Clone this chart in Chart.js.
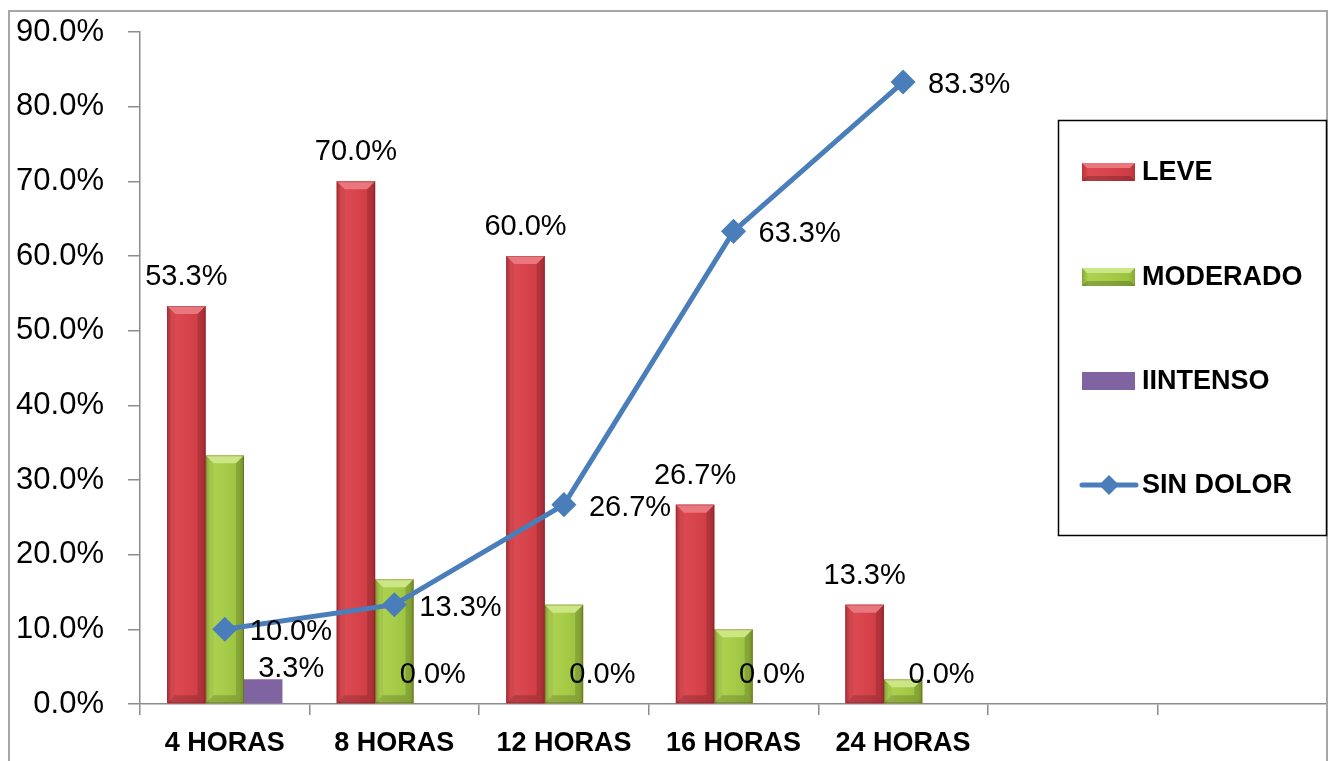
<!DOCTYPE html>
<html>
<head>
<meta charset="utf-8">
<script src="https://cdn.jsdelivr.net/npm/chart.js@4.4.1/dist/chart.umd.min.js"></script>
<style>
html, body { margin: 0; padding: 0; background: #fff; }
#wrap { width: 1332px; height: 761px; }
</style>
</head>
<body>
<div id="wrap"><canvas id="dolorChart" width="1332" height="761"></canvas></div>
<script>
// datos
const categorias = ['4 HORAS', '8 HORAS', '12 HORAS', '16 HORAS', '24 HORAS', '', ''];
const leve = [53.3, 70.0, 60.0, 26.7, 13.3];
const moderado = [33.3, 16.7, 13.3, 10.0, 3.3];
const intenso = [3.3, 0.0, 0.0, 0.0, 0.0];
const sinDolor = [10.0, 13.3, 26.7, 63.3, 83.3];
const ticksY = [0, 10, 20, 30, 40, 50, 60, 70, 80, 90];

const FUENTE = '"Liberation Sans", Arial, sans-serif';
const GRIS = '#8c8c8c';

// colores con bisel (rojo, verde)
const tonoRojo = { edge: '#b8333a', mid: '#d8444c', light: '#dc4b53', dark: '#cf3c44', top: '#e9777d' };
const tonoVerde = { edge: '#86a834', mid: '#a6cc48', light: '#add252', dark: '#9bc23f', top: '#cbe785' };

function gradiente(ctx, x0, x1, t) {
	const g = ctx.createLinearGradient(x0, 0, x1, 0);
	g.addColorStop(0, t.edge);
	g.addColorStop(0.12, t.light);
	g.addColorStop(0.5, t.mid);
	g.addColorStop(0.88, t.dark);
	g.addColorStop(1, t.edge);
	return g;
}

function pct(v) {
	return v.toFixed(1) + '%';
}

// area del grafico hasta el borde derecho
const area = {
	id: 'area',
	afterLayout(chart) {
		const a = chart.chartArea, x = chart.scales.x;
		const derecha = chart.width - 5;
		if (a.right !== derecha) {
			a.right = derecha;
			a.width = a.right - a.left;
			x.right = derecha;
			x.width = x.right - x.left;
			x.configure();
		}
	}
};

// fondo y bisel de las barras
const bisel = {
	id: 'bisel',
	beforeDraw(chart) {
		const c = chart.ctx;
		c.save();
		c.fillStyle = '#fff';
		c.fillRect(0, 0, chart.width, chart.height);
		c.restore();
	},
	afterDatasetDraw(chart, args) {
		const ds = chart.data.datasets[args.index];
		if (!ds.tono) return;
		const c = chart.ctx;
		args.meta.data.forEach(el => {
			const h = el.base - el.y;
			if (h < 1) return;
			const x0 = el.x - el.width / 2, x1 = el.x + el.width / 2;
			const b = Math.min(8, h / 2);
			c.save();
			c.fillStyle = gradiente(c, x0, x1, ds.tono);
			c.fillRect(x0, el.y, x1 - x0, h);
			c.fillStyle = ds.tono.top;
			c.beginPath();
			c.moveTo(x0, el.y); c.lineTo(x1, el.y); c.lineTo(x1 - b, el.y + b); c.lineTo(x0 + b, el.y + b);
			c.closePath(); c.fill();
			c.fillStyle = 'rgba(0,0,0,0.05)';
			c.beginPath();
			c.moveTo(x0, el.y); c.lineTo(x0 + b, el.y + b); c.lineTo(x0 + b, el.base - b); c.lineTo(x0, el.base);
			c.closePath(); c.fill();
			c.fillStyle = 'rgba(0,0,0,0.14)';
			c.beginPath();
			c.moveTo(x1, el.y); c.lineTo(x1 - b, el.y + b); c.lineTo(x1 - b, el.base - b); c.lineTo(x1, el.base);
			c.closePath(); c.fill();
			c.fillStyle = 'rgba(0,0,0,0.16)';
			c.beginPath();
			c.moveTo(x0, el.base); c.lineTo(x1, el.base); c.lineTo(x1 - b, el.base - b); c.lineTo(x0 + b, el.base - b);
			c.closePath(); c.fill();
			c.strokeStyle = 'rgba(90,20,20,0.25)';
			c.lineWidth = 1;
			c.strokeRect(x0 + 0.5, el.y + 0.5, x1 - x0 - 1, h - 1);
			c.restore();
		});
	}
};

// etiquetas de datos
const etiquetas = {
	id: 'etiquetas',
	afterDatasetsDraw(chart) {
		const c = chart.ctx;
		c.save();
		c.font = '29px ' + FUENTE;
		c.fillStyle = '#000';
		chart.data.datasets.forEach((ds, i) => {
			if (!ds.etiqueta) return;
			const meta = chart.getDatasetMeta(i);
			meta.data.forEach((el, j) => {
				const txt = pct(ds.data[j]);
				if (ds.etiqueta === 'arriba') {
					c.textAlign = 'center';
					c.textBaseline = 'alphabetic';
					c.fillText(txt, el.x, el.y - 21);
				} else if (ds.etiqueta === 'base') {
					c.textAlign = 'center';
					c.textBaseline = 'alphabetic';
					c.fillText(txt, el.x + (ds.data[j] > 0 ? 28 : 0), Math.min(el.y - 2, el.base - 21));
				} else if (ds.etiqueta === 'derecha') {
					c.textAlign = 'left';
					c.textBaseline = 'middle';
					c.fillText(txt, el.x + 25, el.y + 3);
				}
			});
		});
		c.restore();
	}
};

// marco y leyenda
const leyenda = {
	id: 'leyenda',
	afterDraw(chart) {
		const c = chart.ctx;
		c.save();
		// marco exterior
		c.strokeStyle = '#a6a6a6';
		c.lineWidth = 2;
		c.strokeRect(9, 11, 1318, 800);
		// caja de leyenda
		c.fillStyle = '#fff';
		c.fillRect(1058, 120, 269, 416);
		c.strokeStyle = '#000';
		c.lineWidth = 1.5;
		c.strokeRect(1058.5, 120.5, 268, 415);
		const filas = [172, 277, 381, 485];
		c.font = 'bold 27px ' + FUENTE;
		c.textAlign = 'left';
		c.textBaseline = 'middle';
		chart.data.datasets.forEach((ds, i) => {
			const y = filas[i];
			if (ds.type === 'line') {
				c.strokeStyle = ds.borderColor;
				c.lineWidth = 5;
				c.lineCap = 'round';
				c.beginPath(); c.moveTo(1082, y); c.lineTo(1136, y); c.stroke();
				c.fillStyle = ds.borderColor;
				c.beginPath();
				c.moveTo(1109, y - 10); c.lineTo(1119, y); c.lineTo(1109, y + 10); c.lineTo(1099, y);
				c.closePath(); c.fill();
			} else {
				const x0 = 1082, x1 = 1135, t0 = y - 9, t1 = y + 9, b = 5;
				if (ds.tono) {
					c.fillStyle = gradiente(c, x0, x1, ds.tono);
					c.fillRect(x0, t0, x1 - x0, t1 - t0);
					c.fillStyle = ds.tono.top;
					c.beginPath();
					c.moveTo(x0, t0); c.lineTo(x1, t0); c.lineTo(x1 - b, t0 + b); c.lineTo(x0 + b, t0 + b);
					c.closePath(); c.fill();
					c.fillStyle = 'rgba(0,0,0,0.2)';
					c.beginPath();
					c.moveTo(x0, t1); c.lineTo(x1, t1); c.lineTo(x1 - b, t1 - b); c.lineTo(x0 + b, t1 - b);
					c.closePath(); c.fill();
				} else {
					c.fillStyle = ds.backgroundColor;
					c.fillRect(x0, t0, x1 - x0, t1 - t0);
				}
			}
			c.fillStyle = '#000';
			c.fillText(ds.label, 1142, y + 1);
		});
		c.restore();
	}
};

const ctx = document.getElementById('dolorChart').getContext('2d');

const dolorChart = new Chart(ctx, {
	data: {
		labels: categorias,
		datasets: [
			{ type: 'bar', label: 'LEVE', data: leve, backgroundColor: '#d8444c', tono: tonoRojo, etiqueta: 'arriba', order: 1 },
			{ type: 'bar', label: 'MODERADO', data: moderado, backgroundColor: '#a6cc48', tono: tonoVerde, order: 1 },
			{ type: 'bar', label: 'IINTENSO', data: intenso, backgroundColor: '#8064a2', etiqueta: 'base', order: 1 },
			{
				type: 'line', label: 'SIN DOLOR', data: sinDolor,
				borderColor: '#4a7ebb', backgroundColor: '#4a7ebb', borderWidth: 5,
				pointStyle: 'rectRot', pointRadius: 9, pointBackgroundColor: '#4a7ebb', pointBorderColor: '#4a7ebb',
				tension: 0, etiqueta: 'derecha', order: 0
			}
		]
	},
	plugins: [area, bisel, etiquetas, leyenda],
	options: {
		responsive: false,
		animation: false,
		events: [],
		layout: { padding: { top: 32, right: 5, left: 0, bottom: 0 } },
		datasets: {
			bar: { categoryPercentage: 0.68, barPercentage: 1 }
		},
		plugins: {
			legend: { display: false },
			tooltip: { enabled: false }
		},
		scales: {
			x: {
				offset: true,
				afterFit: (s) => { s.height = 57; s.paddingLeft = 0; s.paddingRight = 0; },
				grid: { offset: true, drawOnChartArea: false, tickLength: 11, color: GRIS, lineWidth: 1.5 },
				border: { color: GRIS, width: 1.5 },
				ticks: { color: '#000', padding: 12, maxRotation: 0, autoSkip: false, font: { family: FUENTE, size: 27, weight: 'bold' } }
			},
			y: {
				min: 0,
				max: 90,
				afterFit: (s) => { s.width = 140; s.paddingTop = 0; s.paddingBottom = 0; },
				afterBuildTicks: (s) => { s.ticks = ticksY.map(v => ({ value: v })); },
				grid: { drawOnChartArea: false, tickLength: 12, color: GRIS, lineWidth: 1.5 },
				border: { color: GRIS, width: 1.5 },
				ticks: { color: '#000', padding: 24, font: { family: FUENTE, size: 31 }, callback: (v) => pct(v) }
			}
		}
	}
});
</script>
</body>
</html>
